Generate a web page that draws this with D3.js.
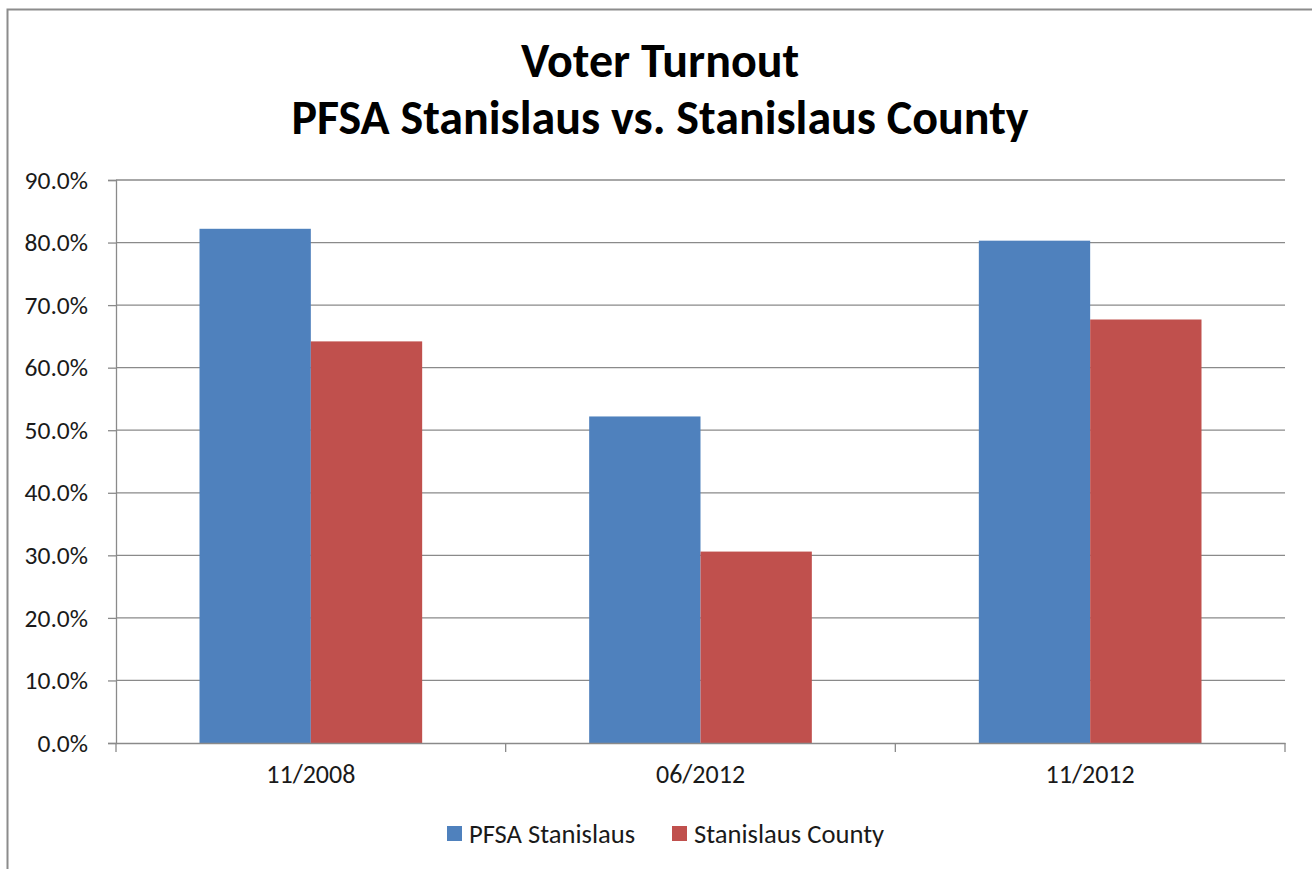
<!DOCTYPE html>
<html><head><meta charset="utf-8">
<script src="https://cdn.jsdelivr.net/npm/d3@7"></script>
<style>body{margin:0;background:#fff;} svg{display:block;}</style>
</head><body>
<svg id="chart" width="1312" height="869"></svg>
<script>
const categories = ["11/2008", "06/2012", "11/2012"];
const seriesNames = ["PFSA Stanislaus", "Stanislaus County"];
const pfsaValues = [82.2, 52.2, 80.3];
const countyValues = [64.2, 30.6, 67.7];
const yTicks = [0, 10, 20, 30, 40, 50, 60, 70, 80, 90];
const titleLines = ["Voter Turnout", "PFSA Stanislaus vs. Stanislaus County"];
const colors = ["#4F81BD", "#C0504D"];

const svg = d3.select("#chart");
const font = "Calibri, Carlito, Lato, 'Open Sans', sans-serif";
const W = 1312, H = 869;
const m = {left: 116, right: 1285, top: 180, bottom: 743};

// outer border
svg.append("rect").attr("x", 7.5).attr("y", 9.5).attr("width", W + 20).attr("height", H + 20)
  .attr("fill", "#fff").attr("stroke", "#8c8c8c").attr("stroke-width", 2);

const x0 = d3.scaleBand().domain(categories).range([m.left, m.right]).paddingInner(0).paddingOuter(0);
const y = d3.scaleLinear().domain([0, 90]).range([m.bottom, m.top]);
const bw = x0.bandwidth();
// gap width 150% of bar width: 0.75 bar on each side
const x1 = d3.scaleBand().domain(seriesNames).range([bw * 0.75 / 3.5, bw - bw * 0.75 / 3.5]);

// gridlines
svg.append("g").selectAll("line").data(yTicks.filter(d => d > 0)).join("line")
  .attr("x1", m.left).attr("x2", m.right)
  .attr("y1", d => y(d)).attr("y2", d => y(d))
  .attr("stroke", "#8a8a8a").attr("stroke-width", 1.3);

// bars
const seriesData = [pfsaValues, countyValues];
const g = svg.append("g");
seriesNames.forEach((s, si) => {
  g.selectAll("rect.s" + si).data(categories).join("rect")
    .attr("class", "s" + si)
    .attr("x", c => x0(c) + x1(s))
    .attr("width", x1.bandwidth())
    .attr("y", (c, i) => y(seriesData[si][i]))
    .attr("height", (c, i) => y(0) - y(seriesData[si][i]))
    .attr("fill", colors[si]);
});

// y axis
const yAxis = d3.axisLeft(y).tickValues(yTicks).tickSize(8).tickPadding(20)
  .tickFormat(d => d.toFixed(1) + "%");
const ya = svg.append("g").attr("transform", `translate(${m.left},0)`).call(yAxis);
ya.select(".domain").attr("stroke", "#8a8a8a").attr("stroke-width", 1.3);
ya.selectAll(".tick line").attr("stroke", "#8a8a8a").attr("stroke-width", 1.3);
ya.selectAll("text").attr("font-family", font).attr("font-size", 25.5).attr("fill", "#1a1a1a");

// x axis
const xa = svg.append("g").attr("transform", `translate(0,${m.bottom})`)
  .call(d3.axisBottom(x0).tickSize(0).tickPadding(22));
xa.select(".domain").attr("stroke", "#8a8a8a").attr("stroke-width", 1.3);
xa.selectAll("text").attr("font-family", font).attr("font-size", 26).attr("fill", "#1a1a1a");
// category boundary ticks
const bounds = categories.map(c => x0(c)).concat([m.right]);
svg.append("g").selectAll("line").data(bounds).join("line")
  .attr("x1", d => d).attr("x2", d => d).attr("y1", m.bottom).attr("y2", m.bottom + 9)
  .attr("stroke", "#8a8a8a").attr("stroke-width", 1.3);

// title
svg.append("g").selectAll("text").data(titleLines).join("text")
  .attr("x", 660).attr("y", (d, i) => 77 + i * 57)
  .attr("text-anchor", "middle").attr("font-family", font).attr("font-weight", "bold")
  .attr("font-size", 48).attr("fill", "#000").text(d => d);

// legend
const legendX = [447, 672];
const lg = svg.append("g");
seriesNames.forEach((s, i) => {
  lg.append("rect").attr("x", legendX[i]).attr("y", 826).attr("width", 15).attr("height", 15).attr("fill", colors[i]);
  lg.append("text").attr("x", legendX[i] + 22).attr("y", 843).attr("font-family", font)
    .attr("font-size", 26.6).attr("fill", "#1a1a1a").text(s);
});
</script>
</body></html>
